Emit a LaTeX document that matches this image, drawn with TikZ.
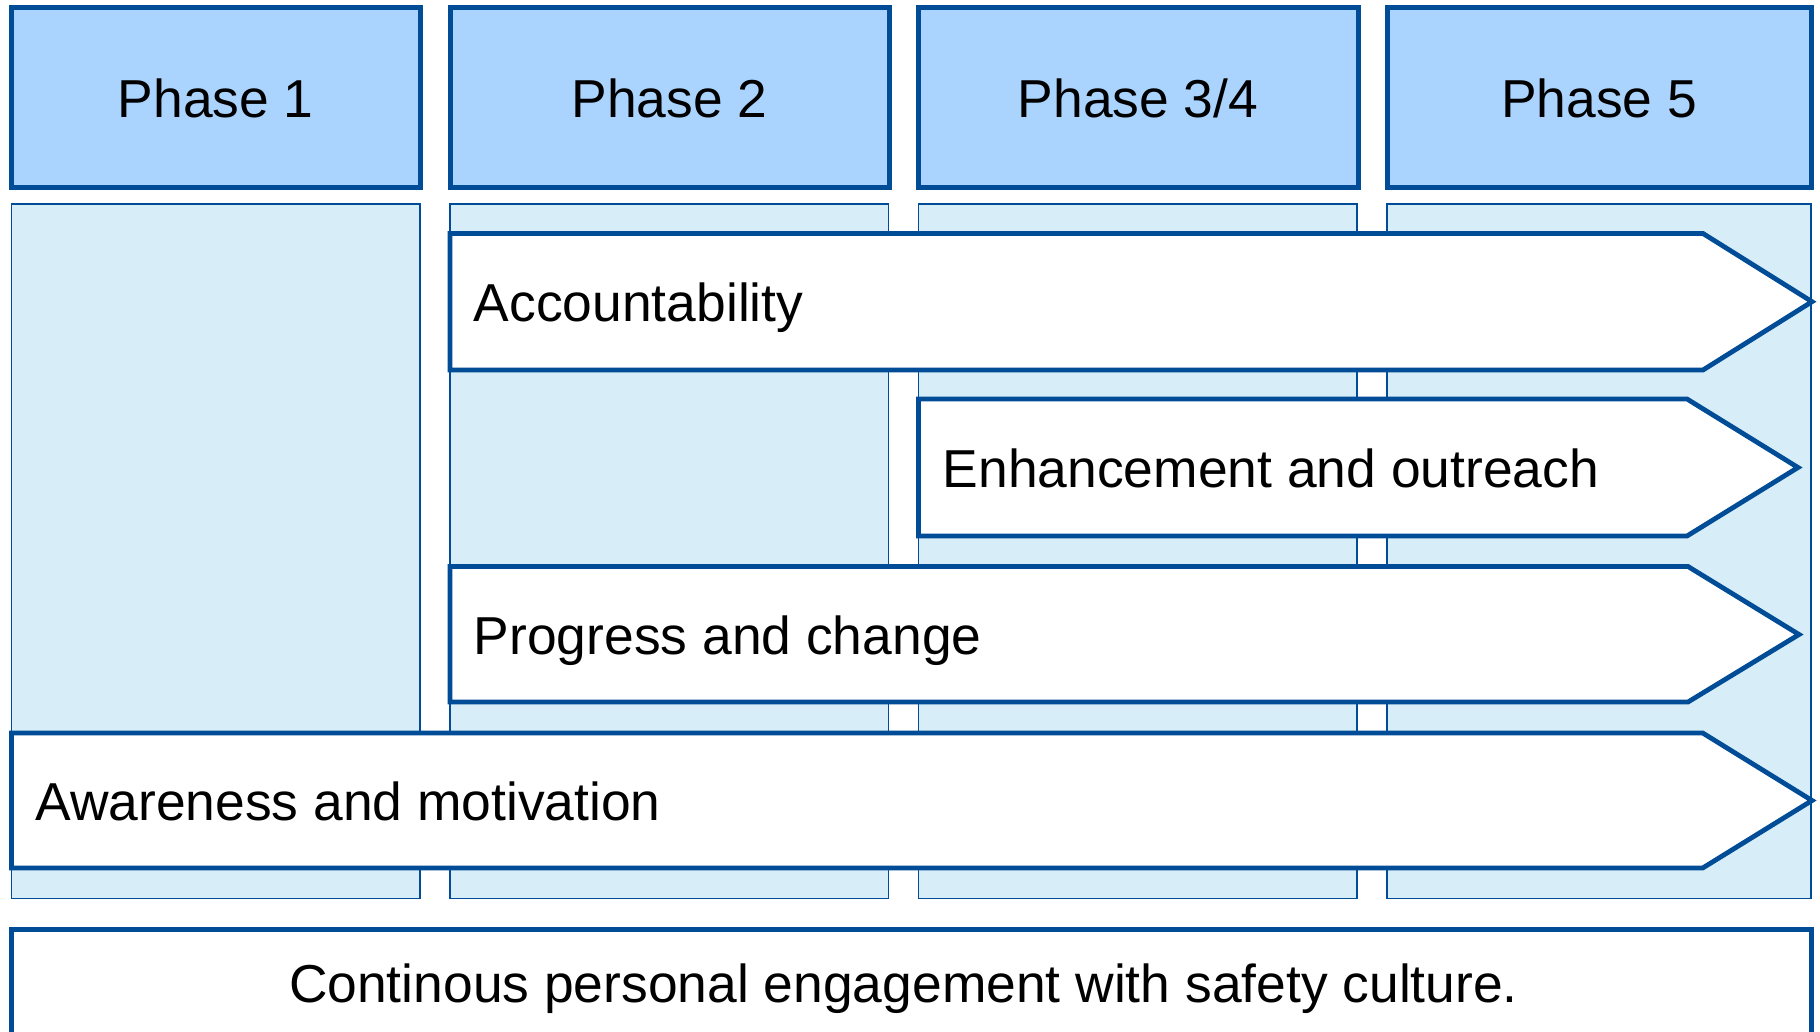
\documentclass[tikz,border=0pt]{standalone}
\usepackage{fontspec}
\setmainfont{Liberation Sans}
\definecolor{dblue}{HTML}{004C97}
\definecolor{hfill}{HTML}{AAD4FE}
\definecolor{cfill}{HTML}{D7EEF8}
\begin{document}
\begin{tikzpicture}[x=0.5pt,y=-0.5pt,
  header/.style={draw=dblue,fill=hfill,line width=2.5pt},
  column/.style={draw=dblue,fill=cfill,line width=0.7pt},
  arrowbox/.style={draw=dblue,fill=white,line width=2.4pt,line join=miter},
  footbox/.style={draw=dblue,fill=white,line width=2.5pt},
  lbl/.style={font=\fontsize{26.7pt}{30pt}\selectfont,inner sep=0pt,text=black}]
\useasboundingbox (0,0) rectangle (1820,1032);
\fill[white] (0,0) rectangle (1820,1032);
% headers
\path[header] (11.5,7.5) rectangle (420,188);
\path[header] (450,7.5) rectangle (889,188);
\path[header] (918,7.5) rectangle (1358,188);
\path[header] (1387,7.5) rectangle (1811,188);
\node[lbl,anchor=base] (p1) at (215.75,117.5) {Phase 1};
\node[lbl,anchor=base] (p2) at (669.5,117.5) {Phase 2};
\node[lbl,anchor=base] (p34) at (1138,117.5) {Phase 3/4};
\node[lbl,anchor=base] (p5) at (1599,117.5) {Phase 5};
% columns
\path[column] (11.5,204) rectangle (420,898.5);
\path[column] (450,204) rectangle (888.5,898.5);
\path[column] (918.5,204) rectangle (1357,898.5);
\path[column] (1387,204) rectangle (1811,898.5);
% arrows
\path[arrowbox] (450,233.5) -- (1703,233.5) -- (1812,301.7) -- (1703,370) -- (450,370) -- cycle;
\path[arrowbox] (918.5,399) -- (1687,399) -- (1798,467.5) -- (1687,536) -- (918.5,536) -- cycle;
\path[arrowbox] (450,566.5) -- (1688,566.5) -- (1799,634.5) -- (1688,702) -- (450,702) -- cycle;
\path[arrowbox] (11.5,733) -- (1702.7,733) -- (1812,800.5) -- (1702.7,868) -- (11.5,868) -- cycle;
\node[lbl,anchor=base west] (acc) at (473.5,321.5) {Accountability};
\node[lbl,anchor=base west] (enh) at (942.5,487.5) {Enhancement and outreach};
\node[lbl,anchor=base west] (prog) at (473.5,654.5) {Progress and change};
\node[lbl,anchor=base west] (aware) at (35,820.5) {Awareness and motivation};
% footer
\path[footbox] (11.5,929) rectangle (1811,1060);
\node[lbl,anchor=base] (foot) at (903.5,1002.5) {Continous personal engagement with safety culture.};
\end{tikzpicture}
\end{document}
